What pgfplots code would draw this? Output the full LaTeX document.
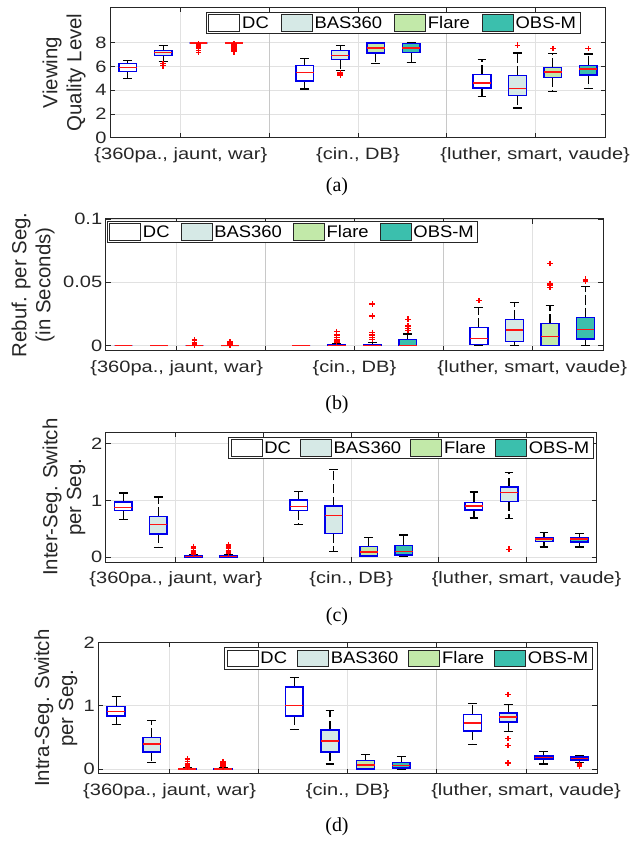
\documentclass[border=0pt]{standalone}
\usepackage{pgfplots}
\pgfplotsset{compat=1.18}
\usepgfplotslibrary{statistics}
\usepackage{fontspec}
\setmainfont{Liberation Sans}
\newfontfamily\tickfont[FakeStretch=1.22]{Liberation Sans}
\newfontfamily\legfont[FakeStretch=1.1]{Liberation Sans}
\newfontfamily\capfont{Liberation Serif}

\definecolor{basc}{RGB}{214,233,230}
\definecolor{flarec}{RGB}{194,233,169}
\definecolor{obsc}{RGB}{59,191,173}
\definecolor{axc}{RGB}{38,38,38}
\definecolor{gridc}{RGB}{225,225,225}
\definecolor{sepc}{RGB}{200,200,200}
\definecolor{medc}{RGB}{255,20,20}
\definecolor{boxc}{RGB}{0,0,235}

\pgfplotsset{
  myaxis/.style={
    scale only axis,
    xmin=0.2, xmax=5.8,
    xtick={1,3,5},
    xticklabels={{\{360pa., jaunt, war\}},{\{cin., DB\}},{\{luther, smart, vaude\}}},
    extra x ticks={2,4}, extra x tick labels={},
    extra x tick style={grid style={sepc, line width=0.9bp}},
    grid=major, grid style={gridc, line width=0.9bp},
    tick align=inside, major tick length=5bp,
    tick style={axc, line width=0.9bp},
    axis line style={axc, line width=1bp},
    ticklabel style={font=\tickfont\fontsize{16.5}{18}\selectfont, text=axc},
    yticklabel style={/pgf/number format/assume math mode=true},
    xticklabel style={yshift=-6bp},
    ylabel style={font=\fontsize{20.5}{24}\selectfont, align=center, text=axc, anchor=center},
    legend columns=-1,
    legend style={
      draw=axc, line width=0.8bp, fill=white,
      font=\legfont\fontsize{16.8}{18}\selectfont,
      inner xsep=2bp, inner ysep=2bp,
      anchor=north,
      cells={anchor=west},
    },
    boxplot/draw direction=y,
    boxplot/box extend=0.2,
    boxplot/whisker extend=0.1,
    boxplot/every whisker/.style={draw=black, line width=1.2bp, dash pattern=on 9.2bp off 3.5bp},
    boxplot/every median/.style={draw=medc, line width=1.4bp, solid},
    boxplot/every box/.style={draw=boxc, line width=1.5bp, solid},
  },
  bx/.style={forget plot, draw=boxc, mark=+, mark size=2.8bp,
    mark options={red, solid, line width=1.4bp}},
  bxD/.style={bx, fill=white},
  bxB/.style={bx, fill=basc},
  bxF/.style={bx, fill=flarec},
  bxO/.style={bx, fill=obsc},
  lp/.style={legend image code/.code={\draw[draw=black!85, line width=0.8bp, solid, fill=#1] (0bp,-8.3bp) rectangle (31bp,8.3bp);}},
  colsep/.style={legend style={/tikz/every even column/.append style={column sep=#1}}},
}

\begin{document}
\begin{tikzpicture}
\path[use as bounding box] (0,0) rectangle (631bp,844bp);

% ---------------- (a) ----------------
\begin{axis}[myaxis, at={(110bp,706.3bp)}, anchor=south west,
  width=496bp, height=130.4bp,
  ymin=0, ymax=11, ytick={0,2,4,6,8},
  ylabel={Viewing\\Quality Level},
  ylabel style={at={(axis description cs:-0.0927,0.5)}},
  legend style={at={(axis description cs:0.571,0.966)}}, colsep=10bp,
]
\addlegendimage{lp=white}\addlegendentry{DC}
\addlegendimage{lp=basc}\addlegendentry{BAS360}
\addlegendimage{lp=flarec}\addlegendentry{Flare}
\addlegendimage{lp=obsc}\addlegendentry{OBS-M\hspace{9bp}}
\addplot[bxD, boxplot prepared={draw position=0.4, lower whisker=5.0, lower quartile=5.59, median=5.90, upper quartile=6.24, upper whisker=6.53}] coordinates {};
\addplot[bxB, boxplot prepared={draw position=0.8, lower whisker=6.44, lower quartile=6.92, median=7.20, upper quartile=7.37, upper whisker=7.80}] table[row sep=\\, y index=0] {v\\ 6.24\\ 6.07\\};
\addplot[bxF, boxplot prepared={draw position=1.2, lower whisker=8, lower quartile=8, median=8, upper quartile=8, upper whisker=8}] table[row sep=\\, y index=0] {v\\ 7.2\\ 7.35\\ 7.5\\ 7.6\\ 7.7\\ 7.8\\ 7.9\\};
\addplot[bxO, boxplot prepared={draw position=1.6, lower whisker=8, lower quartile=8, median=8, upper quartile=8, upper whisker=8}] table[row sep=\\, y index=0] {v\\ 7.25\\ 7.4\\ 7.5\\ 7.6\\ 7.7\\ 7.8\\ 7.9\\};
\addplot[bxD, boxplot prepared={draw position=2.4, lower whisker=4.10, lower quartile=4.80, median=5.51, upper quartile=6.07, upper whisker=6.67}] coordinates {};
\addplot[bxB, boxplot prepared={draw position=2.8, lower whisker=5.68, lower quartile=6.58, median=6.92, upper quartile=7.34, upper whisker=7.77}] table[row sep=\\, y index=0] {v\\ 5.45\\ 5.28\\};
\addplot[bxF, boxplot prepared={draw position=3.2, lower whisker=6.27, lower quartile=7.15, median=7.57, upper quartile=7.99, upper whisker=8.0}] coordinates {};
\addplot[bxO, boxplot prepared={draw position=3.6, lower whisker=6.33, lower quartile=7.20, median=7.57, upper quartile=7.94, upper whisker=8.0}] coordinates {};
\addplot[bxD, boxplot prepared={draw position=4.4, lower whisker=3.47, lower quartile=4.21, median=4.60, upper quartile=5.34, upper whisker=6.61}] coordinates {};
\addplot[bxB, boxplot prepared={draw position=4.8, lower whisker=2.51, lower quartile=3.56, median=4.15, upper quartile=5.23, upper whisker=7.15}] table[row sep=\\, y index=0] {v\\ 7.80\\};
\addplot[bxF, boxplot prepared={draw position=5.2, lower whisker=3.93, lower quartile=5.06, median=5.54, upper quartile=5.93, upper whisker=7.09}] table[row sep=\\, y index=0] {v\\ 7.51\\};
\addplot[bxO, boxplot prepared={draw position=5.6, lower whisker=4.12, lower quartile=5.28, median=5.79, upper quartile=6.10, upper whisker=7.06}] table[row sep=\\, y index=0] {v\\ 7.54\\};
\end{axis}

% ---------------- (b) ----------------
\begin{axis}[myaxis, at={(105.7bp,493.3bp)}, anchor=south west,
  width=497.6bp, height=131.7bp,
  ymin=-0.004, ymax=0.1, ytick={0,0.05,0.1}, yticklabels={0,0.05,0.1},
  ylabel={Rebuf. per Seg.\\(in Seconds)},
  ylabel style={at={(axis description cs:-0.146,0.5)}},
  legend style={at={(axis description cs:0.3754,0.987)}}, colsep=9bp,
]
\addlegendimage{lp=white}\addlegendentry{DC}
\addlegendimage{lp=basc}\addlegendentry{BAS360}
\addlegendimage{lp=flarec}\addlegendentry{Flare}
\addlegendimage{lp=obsc}\addlegendentry{OBS-M\hspace{6bp}}
\addplot[bxD, boxplot prepared={draw position=0.4, lower whisker=0, lower quartile=0, median=0, upper quartile=0, upper whisker=0}] coordinates {};
\addplot[bxB, boxplot prepared={draw position=0.8, lower whisker=0, lower quartile=0, median=0, upper quartile=0, upper whisker=0}] coordinates {};
\addplot[bxF, boxplot prepared={draw position=1.2, lower whisker=0, lower quartile=0, median=0, upper quartile=0, upper whisker=0}] table[row sep=\\, y index=0] {v\\ 0.0045\\ 0.002\\ 0.0005\\};
\addplot[bxO, boxplot prepared={draw position=1.6, lower whisker=0, lower quartile=0, median=0, upper quartile=0, upper whisker=0}] table[row sep=\\, y index=0] {v\\ 0.003\\ 0.002\\ 0.001\\ 0.0005\\};
\addplot[bxD, boxplot prepared={draw position=2.4, lower whisker=0, lower quartile=0, median=0, upper quartile=0, upper whisker=0}] coordinates {};
\addplot[bxB, boxplot prepared={draw position=2.8, lower whisker=0, lower quartile=0, median=0, upper quartile=0.001, upper whisker=0.0015}] table[row sep=\\, y index=0] {v\\ 0.011\\ 0.0084\\ 0.0066\\ 0.005\\ 0.004\\ 0.003\\};
\addplot[bxF, boxplot prepared={draw position=3.2, lower whisker=0, lower quartile=0, median=0, upper quartile=0.001, upper whisker=0.0026}] table[row sep=\\, y index=0] {v\\ 0.033\\ 0.0234\\ 0.0105\\ 0.0084\\ 0.0066\\ 0.005\\};
\addplot[bxO, boxplot prepared={draw position=3.6, lower whisker=0, lower quartile=0, median=0, upper quartile=0.005, upper whisker=0.0092}] table[row sep=\\, y index=0] {v\\ 0.0208\\ 0.0155\\ 0.0134\\ 0.0118\\};
\addplot[bxD, boxplot prepared={draw position=4.4, lower whisker=0, lower quartile=0.001, median=0.0055, upper quartile=0.0145, upper whisker=0.030}] table[row sep=\\, y index=0] {v\\ 0.0355\\};
\addplot[bxB, boxplot prepared={draw position=4.8, lower whisker=0, lower quartile=0.0034, median=0.0124, upper quartile=0.0208, upper whisker=0.0342}] coordinates {};
\addplot[bxF, boxplot prepared={draw position=5.2, lower whisker=0, lower quartile=0, median=0.0074, upper quartile=0.0174, upper whisker=0.0316}] table[row sep=\\, y index=0] {v\\ 0.065\\ 0.049\\ 0.048\\ 0.046\\};
\addplot[bxO, boxplot prepared={draw position=5.6, lower whisker=0, lower quartile=0.0053, median=0.0129, upper quartile=0.0224, upper whisker=0.047}] table[row sep=\\, y index=0] {v\\ 0.051\\ 0.0524\\};
\end{axis}

% ---------------- (c) ----------------
\begin{axis}[myaxis, at={(105.7bp,281.7bp)}, anchor=south west,
  width=491bp, height=130bp,
  ymin=-0.09, ymax=2.2, ytick={0,1,2},
  ylabel={Inter-Seg. Switch\\per Seg.},
  ylabel style={at={(axis description cs:-0.085,0.5)}},
  legend style={at={(axis description cs:0.6214,0.966)}}, colsep=7bp,
]
\addlegendimage{lp=white}\addlegendentry{DC}
\addlegendimage{lp=basc}\addlegendentry{BAS360}
\addlegendimage{lp=flarec}\addlegendentry{Flare}
\addlegendimage{lp=obsc}\addlegendentry{OBS-M\hspace{3bp}}
\addplot[bxD, boxplot prepared={draw position=0.4, lower whisker=0.66, lower quartile=0.82, median=0.88, upper quartile=0.97, upper whisker=1.13}] coordinates {};
\addplot[bxB, boxplot prepared={draw position=0.8, lower whisker=0.17, lower quartile=0.41, median=0.58, upper quartile=0.72, upper whisker=1.06}] coordinates {};
\addplot[bxF, boxplot prepared={draw position=1.2, lower whisker=0, lower quartile=0, median=0.01, upper quartile=0.03, upper whisker=0.04}] table[row sep=\\, y index=0] {v\\ 0.05\\ 0.06\\ 0.08\\ 0.10\\ 0.12\\ 0.15\\ 0.17\\ 0.19\\};
\addplot[bxO, boxplot prepared={draw position=1.6, lower whisker=0, lower quartile=0, median=0.01, upper quartile=0.03, upper whisker=0.045}] table[row sep=\\, y index=0] {v\\ 0.06\\ 0.08\\ 0.10\\ 0.12\\ 0.15\\ 0.17\\ 0.20\\ 0.22\\};
\addplot[bxD, boxplot prepared={draw position=2.4, lower whisker=0.58, lower quartile=0.82, median=0.89, upper quartile=1.01, upper whisker=1.16}] coordinates {};
\addplot[bxB, boxplot prepared={draw position=2.8, lower whisker=0.094, lower quartile=0.42, median=0.735, upper quartile=0.906, upper whisker=1.54}] coordinates {};
\addplot[bxF, boxplot prepared={draw position=3.2, lower whisker=0.01, lower quartile=0.02, median=0.094, upper quartile=0.19, upper whisker=0.35}] coordinates {};
\addplot[bxO, boxplot prepared={draw position=3.6, lower whisker=0.01, lower quartile=0.035, median=0.10, upper quartile=0.205, upper whisker=0.39}] coordinates {};
\addplot[bxD, boxplot prepared={draw position=4.4, lower whisker=0.69, lower quartile=0.83, median=0.90, upper quartile=0.96, upper whisker=1.15}] coordinates {};
\addplot[bxB, boxplot prepared={draw position=4.8, lower whisker=0.68, lower quartile=0.98, median=1.135, upper quartile=1.235, upper whisker=1.49}] table[row sep=\\, y index=0] {v\\ 0.14\\};
\addplot[bxF, boxplot prepared={draw position=5.2, lower whisker=0.18, lower quartile=0.28, median=0.32, upper quartile=0.35, upper whisker=0.44}] coordinates {};
\addplot[bxO, boxplot prepared={draw position=5.6, lower whisker=0.18, lower quartile=0.27, median=0.32, upper quartile=0.35, upper whisker=0.42}] coordinates {};
\end{axis}

% ---------------- (d) ----------------
\begin{axis}[myaxis, at={(98.3bp,70bp)}, anchor=south west,
  width=499bp, height=131.7bp,
  ymin=-0.075, ymax=2, ytick={0,1,2},
  ylabel={Intra-Seg. Switch\\per Seg.},
  ylabel style={at={(axis description cs:-0.085,0.5)}},
  legend style={at={(axis description cs:0.6216,0.962)}}, colsep=8bp,
]
\addlegendimage{lp=white}\addlegendentry{DC}
\addlegendimage{lp=basc}\addlegendentry{BAS360}
\addlegendimage{lp=flarec}\addlegendentry{Flare}
\addlegendimage{lp=obsc}\addlegendentry{OBS-M\hspace{5bp}}
\addplot[bxD, boxplot prepared={draw position=0.4, lower whisker=0.70, lower quartile=0.84, median=0.905, upper quartile=0.99, upper whisker=1.15}] coordinates {};
\addplot[bxB, boxplot prepared={draw position=0.8, lower whisker=0.10, lower quartile=0.27, median=0.395, upper quartile=0.50, upper whisker=0.77}] coordinates {};
\addplot[bxF, boxplot prepared={draw position=1.2, lower whisker=0, lower quartile=0, median=0.005, upper quartile=0.015, upper whisker=0.02}] table[row sep=\\, y index=0] {v\\ 0.03\\ 0.05\\ 0.07\\ 0.09\\ 0.12\\ 0.16\\};
\addplot[bxO, boxplot prepared={draw position=1.6, lower whisker=0, lower quartile=0, median=0.005, upper quartile=0.015, upper whisker=0.02}] table[row sep=\\, y index=0] {v\\ 0.04\\ 0.06\\ 0.08\\ 0.10\\ 0.12\\};
\addplot[bxD, boxplot prepared={draw position=2.4, lower whisker=0.62, lower quartile=0.84, median=1.005, upper quartile=1.295, upper whisker=1.44}] coordinates {};
\addplot[bxB, boxplot prepared={draw position=2.8, lower whisker=0.084, lower quartile=0.27, median=0.447, upper quartile=0.616, upper whisker=0.926}] coordinates {};
\addplot[bxF, boxplot prepared={draw position=3.2, lower whisker=0, lower quartile=0.005, median=0.068, upper quartile=0.14, upper whisker=0.23}] coordinates {};
\addplot[bxO, boxplot prepared={draw position=3.6, lower whisker=0, lower quartile=0.02, median=0.058, upper quartile=0.105, upper whisker=0.20}] coordinates {};
\addplot[bxD, boxplot prepared={draw position=4.4, lower whisker=0.39, lower quartile=0.605, median=0.726, upper quartile=0.863, upper whisker=1.04}] coordinates {};
\addplot[bxB, boxplot prepared={draw position=4.8, lower whisker=0.59, lower quartile=0.742, median=0.826, upper quartile=0.884, upper whisker=1.016}] table[row sep=\\, y index=0] {v\\ 1.18\\ 0.484\\ 0.374\\ 0.10\\};
\addplot[bxF, boxplot prepared={draw position=5.2, lower whisker=0.084, lower quartile=0.158, median=0.184, upper quartile=0.21, upper whisker=0.274}] coordinates {};
\addplot[bxO, boxplot prepared={draw position=5.6, lower whisker=0.10, lower quartile=0.142, median=0.168, upper quartile=0.195, upper whisker=0.216}] table[row sep=\\, y index=0] {v\\ 0.053\\ 0.084\\};
\end{axis}

% captions
\node[font=\capfont\fontsize{20}{24}\selectfont] at (337bp,657bp) {(a)};
\node[font=\capfont\fontsize{20}{24}\selectfont] at (337bp,439bp) {(b)};
\node[font=\capfont\fontsize{20}{24}\selectfont] at (337bp,227bp) {(c)};
\node[font=\capfont\fontsize{20}{24}\selectfont] at (337bp,17bp) {(d)};
\end{tikzpicture}
\end{document}
